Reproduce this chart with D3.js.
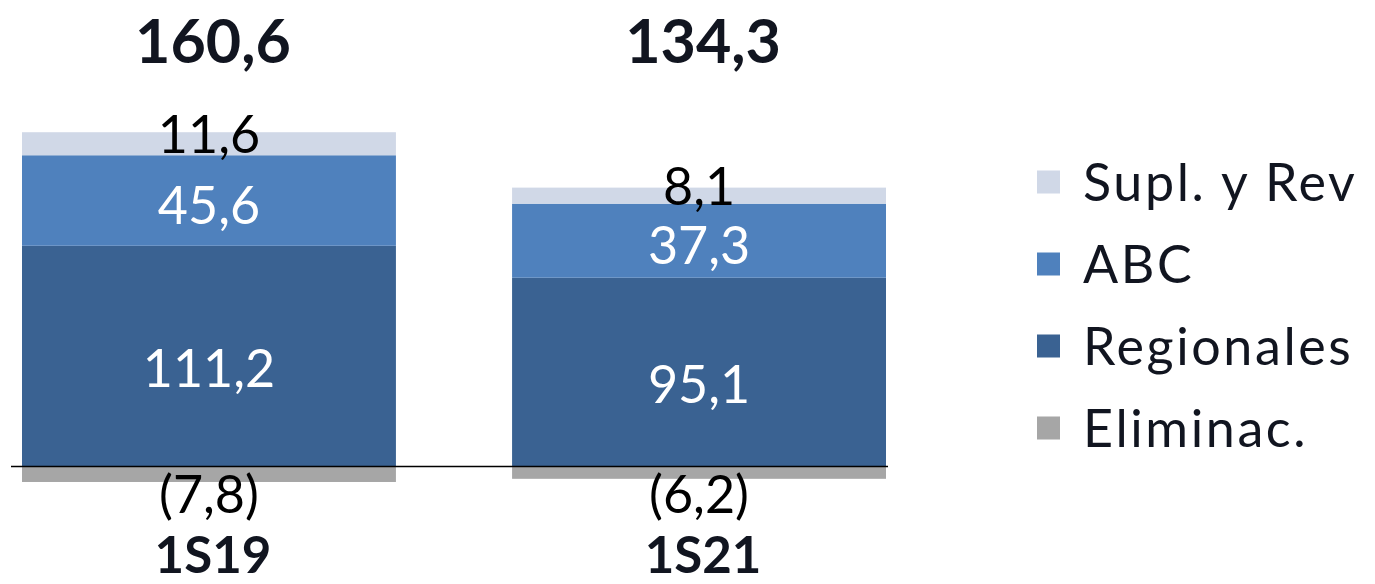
<!DOCTYPE html>
<html lang="es">
  <head>
    <meta charset="UTF-8" />
    <script src="https://d3js.org/d3.v7.min.js"></script>
    <title>1S19 vs 1S21</title>
    <style>
      body { margin: 0; background: #fff; }
      svg text { font-family: Lato, "Noto Sans", sans-serif; }
    </style>
  </head>
  <body>
    <div id="chart"></div>
    <script>
    // data
    var categories = ["1S19", "1S21"];
    var totals = [160.6, 134.3];
    var regionales = [111.2, 95.1];
    var abc = [45.6, 37.3];
    var suplRev = [11.6, 8.1];
    var eliminac = [-7.8, -6.2];
    var seriesNames = ["Supl. y Rev", "ABC", "Regionales", "Eliminac."];

    var W = 1375, H = 584;

    var svg = d3.select("#chart").append("svg")
        .attr("width", W)
        .attr("height", H);

    // x: two wide bars
    var x = d3.scaleBand()
        .domain(categories)
        .range([22, 886])
        .paddingInner(0.237)
        .paddingOuter(0);

    // y: zero line sits at ~466
    var y = d3.scaleLinear()
        .domain([-10, 170])
        .range([486.35, 129.05]);

    // stack order bottom -> top, negatives go below zero
    var stackSeries = [
      { name: "Regionales", values: regionales, color: "#3A6292", label: "#ffffff", dy: 12 },
      { name: "ABC",        values: abc,        color: "#4F81BD", label: "#ffffff", dy: 5 },
      { name: "Supl. y Rev", values: suplRev,   color: "#D0D8E7", label: "#000000", dy: -9 }
    ];
    var colors = {
      "Supl. y Rev": "#D0D8E7",
      "ABC": "#4F81BD",
      "Regionales": "#3A6292",
      "Eliminac.": "#A6A6A6"
    };

    // build segments
    var segs = [];
    categories.forEach(function(c, i) {
      var base = 0;
      stackSeries.forEach(function(s) {
        segs.push({ cat: c, s: s, y0: base, y1: base + s.values[i], v: s.values[i] });
        base += s.values[i];
      });
    });

    var bars = svg.append("g");

    // negative bars (Eliminac.)
    bars.selectAll(".neg")
      .data(categories)
      .enter().append("rect")
        .attr("class", "neg")
        .attr("x", function(d) { return x(d); })
        .attr("width", x.bandwidth())
        .attr("y", y(0))
        .attr("height", function(d, i) { return y(eliminac[i]) - y(0); })
        .style("fill", colors["Eliminac."]);

    bars.selectAll(".seg")
      .data(segs)
      .enter().append("rect")
        .attr("class", "seg")
        .attr("x", function(d) { return x(d.cat); })
        .attr("width", x.bandwidth())
        .attr("y", function(d) { return y(d.y1); })
        .attr("height", function(d) { return y(d.y0) - y(d.y1); })
        .style("fill", function(d) { return d.s.color; });

    // zero line
    svg.append("line")
        .attr("x1", 11)
        .attr("x2", 888)
        .attr("y1", y(0))
        .attr("y2", y(0))
        .style("stroke", "#000")
        .style("stroke-width", 1.3);

    var fmt = function(v) { return d3.format(".1f")(Math.abs(v)).replace(".", ","); };

    // segment labels
    svg.selectAll(".val")
      .data(segs)
      .enter().append("text")
        .attr("class", "val")
        .attr("x", function(d) { return x(d.cat) + x.bandwidth() / 2; })
        .attr("y", function(d) { return (y(d.y0) + y(d.y1)) / 2 + d.s.dy; })
        .attr("dy", "0.36em")
        .attr("text-anchor", "middle")
        .style("font-size", "52px")
        .style("fill", function(d) { return d.s.label; })
        .text(function(d) { return fmt(d.v); });

    // Eliminac. labels under the bars
    svg.selectAll(".negval")
      .data(categories)
      .enter().append("text")
        .attr("class", "negval")
        .attr("x", function(d) { return x(d) + x.bandwidth() / 2; })
        .attr("y", y(0) + 28)
        .attr("dy", "0.36em")
        .attr("text-anchor", "middle")
        .style("font-size", "52px")
        .style("fill", "#000")
        .text(function(d, i) { return "(" + fmt(eliminac[i]) + ")"; });

    // totals on top
    svg.selectAll(".total")
      .data(categories)
      .enter().append("text")
        .attr("class", "total")
        .attr("x", function(d) { return x(d) + x.bandwidth() / 2 + 4; })
        .attr("y", 63)
        .attr("text-anchor", "middle")
        .style("font-size", "61px")
        .style("font-weight", "bold")
        .style("fill", "#111520")
        .text(function(d, i) { return fmt(totals[i]); });

    // category labels
    svg.selectAll(".cat")
      .data(categories)
      .enter().append("text")
        .attr("class", "cat")
        .attr("x", function(d) { return x(d) + x.bandwidth() / 2 + 4; })
        .attr("y", 573)
        .attr("text-anchor", "middle")
        .style("font-size", "51px")
        .style("font-weight", "bold")
        .style("fill", "#111520")
        .text(function(d) { return d; });

    // legend
    var legend = svg.append("g")
        .attr("transform", "translate(1037,182)");

    var item = legend.selectAll(".item")
      .data(seriesNames)
      .enter().append("g")
        .attr("class", "item")
        .attr("transform", function(d, i) { return "translate(0," + (i * 82) + ")"; });

    item.append("rect")
        .attr("x", 0)
        .attr("y", -11.5)
        .attr("width", 23)
        .attr("height", 23)
        .style("fill", function(d) { return colors[d]; });

    item.append("text")
        .attr("x", 46)
        .attr("y", 19)
        .style("font-size", "52px")
        .style("letter-spacing", "2.6px")
        .style("fill", "#111520")
        .text(function(d) { return d; });
    </script>
  </body>
</html>
